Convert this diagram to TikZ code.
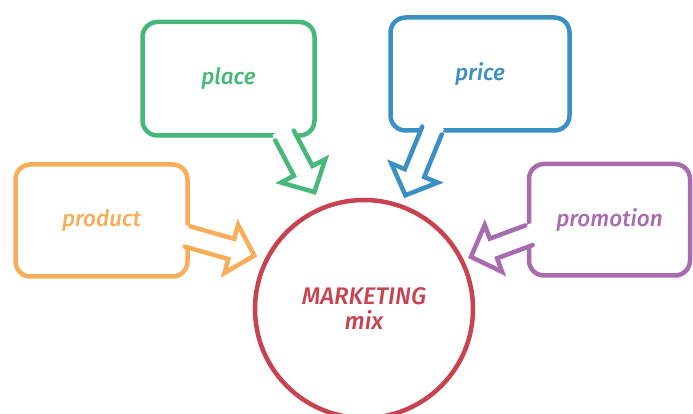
\documentclass[tikz,border=0pt]{standalone}
\usepackage{fontspec}
\setmainfont{Fira Sans}[UprightFont={* Medium Italic}]
\usetikzlibrary{calc}
\definecolor{prodcol}{RGB}{248,174,88}
\definecolor{placecol}{RGB}{70,185,122}
\definecolor{pricecol}{RGB}{58,143,196}
\definecolor{promocol}{RGB}{168,107,176}
\definecolor{mixcol}{RGB}{200,66,79}
% hollow block arrow from a box edge (#2) to a free tip (#3)
\newcommand{\callarrow}[3]{%
  \coordinate (b) at (#2);
  \coordinate (t) at (#3);
  \coordinate (n) at ($(t)!24pt!(b)$);
  \coordinate (bf) at ($(b)!6pt!180:(t)$);
  \fill[white] ($(bf)!10.5pt!90:(t)$) -- ($(n)!10.5pt!90:(t)$) -- ($(n)!25pt!90:(t)$) -- (t)
    -- ($(n)!25pt!-90:(t)$) -- ($(n)!10.5pt!-90:(t)$) -- ($(bf)!10.5pt!-90:(t)$) -- cycle;
  \draw[#1, line cap=round] ($(b)!10.5pt!90:(t)$) -- ($(n)!10.5pt!90:(t)$) -- ($(n)!25pt!90:(t)$) -- (t)
    -- ($(n)!25pt!-90:(t)$) -- ($(n)!10.5pt!-90:(t)$) -- ($(b)!10.5pt!-90:(t)$);
}

\begin{document}
\begin{tikzpicture}[x=1pt, y=1pt, line width=4.5pt,
    box/.style={draw, fill=white, rounded corners=15pt, outer sep=0pt,
      font=\fontsize{22.5}{25}\selectfont},
    mixcirc/.style={circle, draw=mixcol, text=mixcol, minimum size=218pt,
      inner sep=0pt, outer sep=0pt, align=center,
      font=\fontsize{24}{25}\selectfont}]
    \useasboundingbox (0,0) rectangle (693,414);
    \node [mixcirc] (mix) at (364,105) {MARKETING\\mix};
    \node [box, draw=prodcol, text=prodcol, minimum width=172pt, minimum height=112pt] (prod) at (101.5,193.5) {product};
    \node [box, draw=placecol, text=placecol, minimum width=172pt, minimum height=113.5pt] (place) at (228.5,335.25) {place};
    \node [box, draw=pricecol, text=pricecol, minimum width=179pt, minimum height=113pt] (price) at (480,340) {price};
    \node [box, draw=promocol, text=promocol, minimum width=161pt, minimum height=111.5pt] (promo) at (609.5,194.25) {promotion};
    \callarrow{prodcol}{[yshift=-16pt]prod.east}{[shift={(154:122)}]mix.center}
    \callarrow{placecol}{[xshift=56pt]place.south}{[shift={(113:127)}]mix.center}
    \callarrow{pricecol}{[xshift=-48pt]price.south}{[shift={(70:121)}]mix.center}
    \callarrow{promocol}{[yshift=-15.5pt]promo.west}{[shift={(26:119)}]mix.center}
\end{tikzpicture}
\end{document}
